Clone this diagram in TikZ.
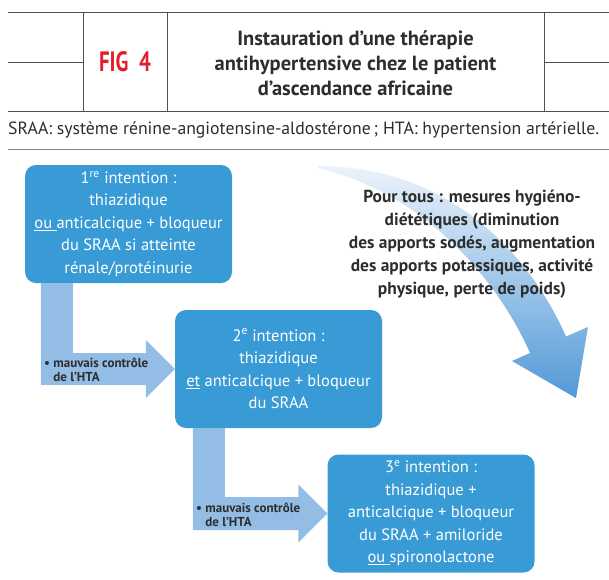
\documentclass[tikz,border=0pt]{standalone}
\usepackage{fontspec}
\setmainfont{PT Sans}
\newfontfamily\narrowfont[FakeStretch=0.75]{PT Sans}
\usetikzlibrary{calc}
\definecolor{boxblue}{RGB}{56,155,214}
\definecolor{arrowblue}{RGB}{148,189,229}
\definecolor{textgray}{RGB}{45,45,45}
\definecolor{figred}{RGB}{227,30,45}
\definecolor{rulegray}{RGB}{80,80,80}
\definecolor{tailblue}{RGB}{236,243,251}
\definecolor{headblue}{RGB}{82,153,215}
\tikzset{
	intention/.style={fill=boxblue,text=white,rounded corners=11pt,minimum width=207pt,minimum height=118pt,inner sep=0pt,align=center,font=\fontsize{16.5}{22.5}\selectfont},
	elbow/.style={fill=arrowblue},
	controle/.style={anchor=west,align=left,text=textgray,inner sep=0pt,font=\bfseries\fontsize{13}{14.5}\selectfont},
	rule/.style={draw=rulegray,line width=0.8pt}
}
\begin{document}
\begin{tikzpicture}[x=1pt,y=-1pt]
	\useasboundingbox (0,0) rectangle (609,579);
	\draw[rule] (8,12.7) -- (609,12.7);
	\draw[rule] (8,111) -- (609,111);
	\draw[rule] (8,62) -- (83,62);
	\draw[rule] (544,62) -- (609,62);
	\draw[rule] (83,12.7) -- (83,111);
	\draw[rule] (167,12.7) -- (167,111);
	\draw[rule] (544,12.7) -- (544,111);
	\draw[rule,draw=rulegray!70] (8,149) -- (609,149);
	\node (fig) at (125,62) {\narrowfont\bfseries\fontsize{28}{28}\selectfont\color{figred}FIG\ \ 4};
	\node[align=center,text=textgray,font=\bfseries\fontsize{20.5}{25}\selectfont] (title) at (355.5,63) {Instauration d’une thérapie\\antihypertensive chez le patient\\d’ascendance africaine};
	\node[anchor=west,inner sep=0pt,text=textgray,font=\fontsize{17.7}{19}\selectfont] (legend) at (8,130) {SRAA: système rénine-angiotensine-aldostérone\,; HTA: hypertension artérielle.};

	\shade[top color=tailblue,bottom color=headblue]
		(318,166) .. controls (450,166) and (530,255) .. (566,336.5)
		-- (588,327) -- (576,398) -- (512,361) -- (530,353)
		.. controls (500,285) and (430,195) .. (318,168) -- cycle;
	\node[align=center,text=textgray,font=\bfseries\fontsize{17.4}{23}\selectfont] (tous) at (472,244) {Pour tous : mesures hygiéno-\\diététiques (diminution\\des apports sodés, augmentation\\des apports potassiques, activité\\physique, perte de poids)};

	\node[intention] (first) at (128.5,224) {1\textsuperscript{re} intention :\\thiazidique\\\underline{ou }anticalcique + bloqueur\\du SRAA si atteinte\\rénale/protéinurie};
	\node[intention] (second) at (278.5,369) {2\textsuperscript{e} intention :\\thiazidique\\\underline{et} anticalcique + bloqueur\\du SRAA};
	\node[intention] (third) at (431,513.5) {3\textsuperscript{e} intention :\\thiazidique +\\anticalcique + bloqueur\\du SRAA + amiloride\\\underline{ou }spironolactone};

	\fill[elbow] ($(first.south west)+(16,0)$) |- ($(second.west)+(-29,16)$) -- ++(0,13) -- (second.west)
		-- ($(second.west)+(-29,-29)$) -- ++(0,13) -| ($(first.south west)+(48,0)$) -- cycle;
	\fill[elbow] ($(second.south west)+(18,0)$) |- ($(third.west)+(-29,16.5)$) -- ++(0,12.5) -- (third.west)
		-- ($(third.west)+(-29,-29)$) -- ++(0,12.5) -| ($(second.south west)+(50,0)$) -- cycle;
	\node[controle] (bad1) at (44,370) {\textbullet\ mauvais contrôle\\\phantom{\textbullet\ }de l’HTA};
	\node[controle] (bad2) at (196,515) {\textbullet\ mauvais contrôle\\\phantom{\textbullet\ }de l’HTA};
\end{tikzpicture}
\end{document}
